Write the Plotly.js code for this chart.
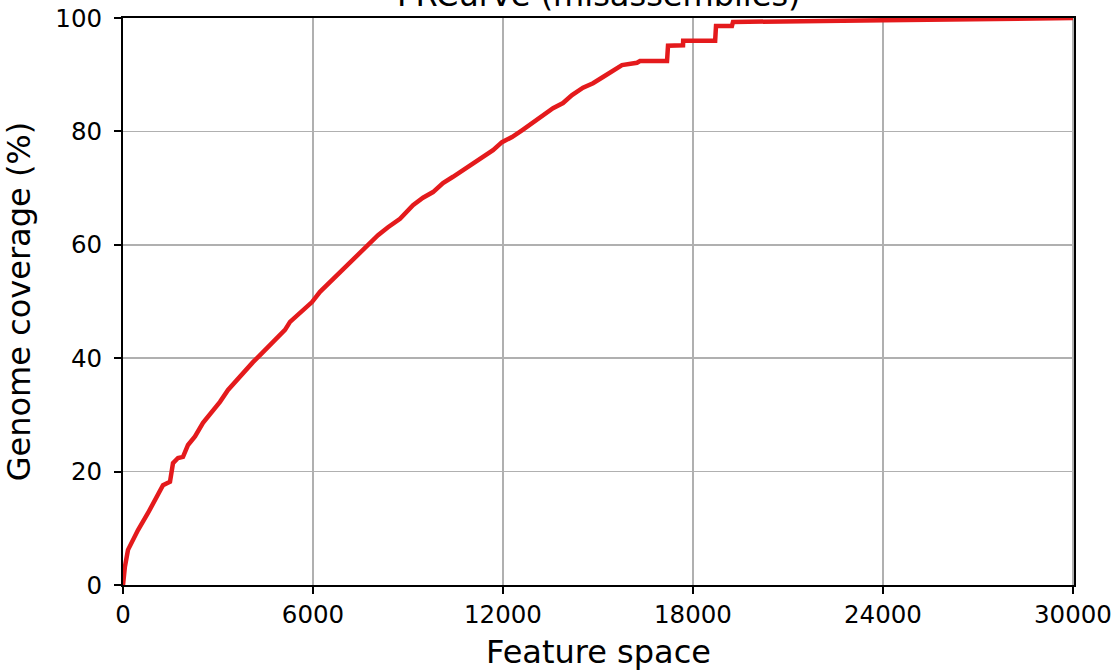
<!DOCTYPE html>
<html>
<head>
<meta charset="utf-8">
<script src="https://cdn.plot.ly/plotly-3.0.1.min.js"></script>
<style>html,body{margin:0;padding:0;background:#fff;}#chart{width:1118px;height:671px;}</style>
</head>
<body>
<div id="chart"></div>
<script>
const featureSpace = [0, 60, 158, 474, 790, 1011, 1263, 1484, 1579, 1737, 1895, 2053, 2274, 2526, 2811, 3063, 3316, 3600, 3853, 4105, 4390, 4642, 4895, 5116, 5274, 5590, 5969, 6221, 6537, 6853, 7169, 7485, 7737, 8053, 8369, 8748, 9158, 9474, 9790, 10106, 10422, 10737, 11053, 11369, 11685, 11969, 12285, 12600, 12948, 13390, 13580, 13895, 14180, 14527, 14843, 15158, 15474, 15758, 16232, 16327, 17180, 17211, 17685, 17690, 18700, 18727, 19230, 19264, 24000, 30000];
const genomeCoverage = [0, 3.2, 6.2, 9.7, 12.7, 15.0, 17.6, 18.2, 21.5, 22.4, 22.6, 24.7, 26.2, 28.6, 30.5, 32.3, 34.4, 36.2, 37.6, 39.3, 40.9, 42.3, 43.7, 45.0, 46.4, 48.1, 49.9, 51.7, 53.4, 55.2, 57.0, 58.6, 60.0, 61.7, 63.1, 64.6, 67.0, 68.3, 69.3, 70.9, 72.0, 73.2, 74.4, 75.5, 76.7, 78.1, 79.0, 80.2, 81.5, 83.2, 84.1, 85.0, 86.4, 87.7, 88.5, 89.6, 90.8, 91.7, 92.1, 92.4, 92.4, 95.1, 95.2, 96.0, 96.0, 98.6, 98.6, 99.3, 99.6, 100];
const xTickVals = [0, 6000, 12000, 18000, 24000, 30000];
const xTickText = ["0", "6000", "12000", "18000", "24000", "30000"];
const yTickVals = [0, 20, 40, 60, 80, 100];
const yTickText = ["0", "20", "40", "60", "80", "100"];
const chartTitle = "FRCurve (misassemblies)";
const xTitle = "Feature space";
const yTitle = "Genome coverage (%)";

const font = "DejaVu Sans, sans-serif";
Plotly.newPlot("chart", [{
  x: featureSpace, y: genomeCoverage, type: "scatter", mode: "lines",
  line: {color: "#e41a1c", width: 4.5, shape: "linear"}, hoverinfo: "skip"
}], {
  width: 1118, height: 671,
  margin: {l: 123, r: 44, t: 18, b: 86},
  paper_bgcolor: "#fff", plot_bgcolor: "#fff",
  showlegend: false,
  font: {family: font, color: "#000", size: 25},
  xaxis: {
    range: [0, 30032], tickvals: xTickVals, ticktext: xTickText,
    showgrid: true, gridcolor: "#b0b0b0", gridwidth: 1.5,
    showline: true, linecolor: "#000", linewidth: 2, mirror: true,
    ticks: "outside", ticklen: 7, tickwidth: 2, tickcolor: "#000",
    zeroline: false, tickfont: {family: font, size: 24.5},
    title: {text: xTitle, font: {family: font, size: 32}, standoff: 14}
  },
  yaxis: {
    range: [0, 100], tickvals: yTickVals, ticktext: yTickText,
    showgrid: true, gridcolor: "#b0b0b0", gridwidth: 1.5,
    showline: true, linecolor: "#000", linewidth: 2, mirror: true,
    ticks: "outside", ticklen: 7, tickwidth: 2, tickcolor: "#000",
    ticklabelstandoff: 7,
    zeroline: false, tickfont: {family: font, size: 24.5},
    title: {text: yTitle, font: {family: font, size: 32}, standoff: 16}
  },
  annotations: [{
    text: chartTitle, xref: "paper", yref: "paper", x: 0.5, y: 1,
    xanchor: "center", yanchor: "bottom", yshift: 2, showarrow: false,
    font: {family: font, size: 32, color: "#000"}
  }]
}, {displayModeBar: false, staticPlot: true});
</script>
</body>
</html>
